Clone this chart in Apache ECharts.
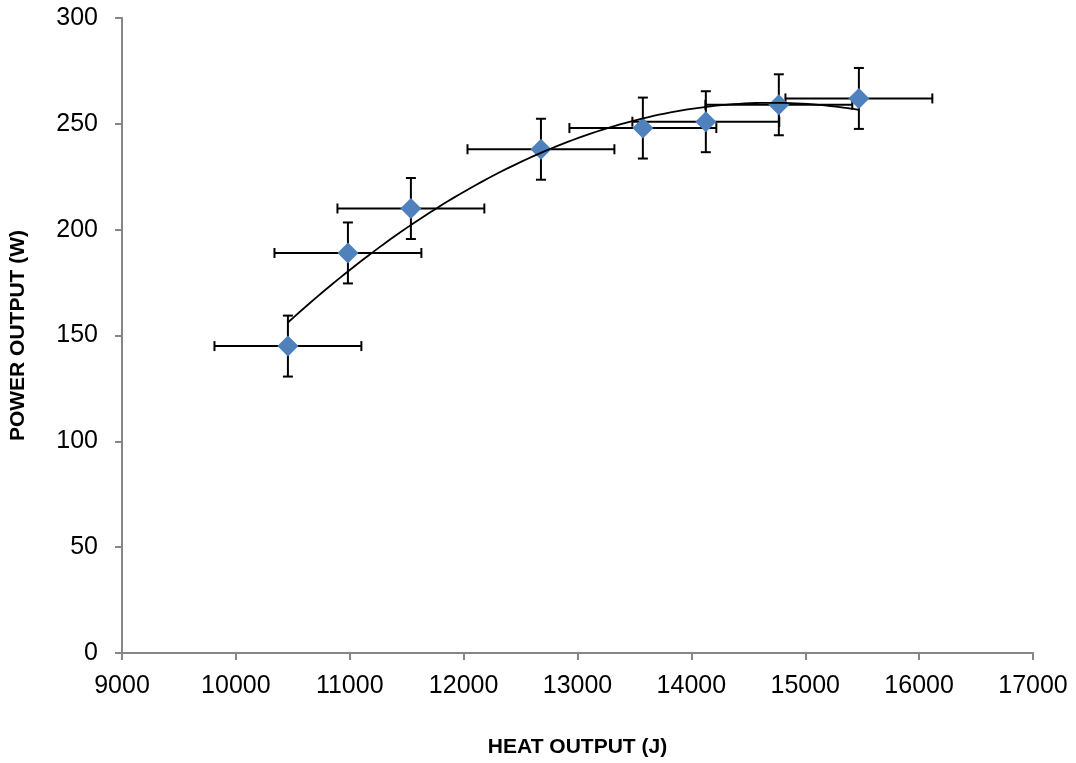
<!DOCTYPE html>
<html><head><meta charset="utf-8">
<script src="https://cdn.jsdelivr.net/npm/echarts@6/dist/echarts.min.js"></script>
<style>html,body{margin:0;padding:0;background:#fff}#c{width:1076px;height:763px}</style>
</head><body><div id="c"></div>
<script>
const heatOutput = [10457, 10984, 11537, 12679, 13574, 14127, 14768, 15471];
const powerOutput = [145, 189, 210, 238, 248, 251, 259, 262];
const heatError = [645, 645, 645, 645, 645, 645, 645, 645];
const powerError = [14.4, 14.4, 14.4, 14.4, 14.4, 14.4, 14.4, 14.4];
const xTicks = {min: 9000, max: 17000, interval: 1000};
const yTicks = {min: 0, max: 300, interval: 50};

// quadratic least-squares trendline (as in the original chart)
function polyFit2(xs, ys) {
  const n = xs.length, m = xs.reduce((a,b)=>a+b,0)/n;
  const u = xs.map(x => (x - m) / 1000);
  let S = [0,0,0,0,0], T = [0,0,0];
  for (let i=0;i<n;i++){ let p=1; for(let k=0;k<5;k++){S[k]+=p; if(k<3)T[k]+=p*ys[i]; p*=u[i];} }
  const A = [[S[0],S[1],S[2],T[0]],[S[1],S[2],S[3],T[1]],[S[2],S[3],S[4],T[2]]];
  for (let i=0;i<3;i++){ for(let j=i+1;j<3;j++){ const f=A[j][i]/A[i][i]; for(let k=i;k<4;k++)A[j][k]-=f*A[i][k]; } }
  const c=[0,0,0];
  for (let i=2;i>=0;i--){ let s=A[i][3]; for(let k=i+1;k<3;k++)s-=A[i][k]*c[k]; c[i]=s/A[i][i]; }
  return x => { const t=(x-m)/1000; return c[0]+c[1]*t+c[2]*t*t; };
}
const fit = polyFit2(heatOutput, powerOutput);
const x0 = Math.min(...heatOutput), x1 = Math.max(...heatOutput);
const trend = [];
for (let i=0;i<=100;i++){ const x = x0 + (x1-x0)*i/100; trend.push([x, fit(x)]); }

const pts = heatOutput.map((x,i)=>[x, powerOutput[i], heatError[i], powerError[i]]);

const font = 'Liberation Sans';
const chart = echarts.init(document.getElementById('c'));
chart.setOption({
  animation: false,
  backgroundColor: '#fff',
  grid: {left: 122, right: 43, top: 18, bottom: 109},
  xAxis: {
    type: 'value', min: xTicks.min, max: xTicks.max, interval: xTicks.interval,
    name: 'HEAT OUTPUT (J)', nameLocation: 'middle', nameGap: 84,
    nameTextStyle: {fontFamily: font, fontWeight: 'bold', fontSize: 21, color: '#000'},
    axisLine: {lineStyle: {color: '#868686', width: 2}},
    axisTick: {show: true, length: 7, lineStyle: {color: '#868686', width: 2}},
    axisLabel: {fontFamily: font, fontSize: 25, color: '#000', margin: 21, formatter: v => String(v)},
    splitLine: {show: false}
  },
  yAxis: {
    type: 'value', min: yTicks.min, max: yTicks.max, interval: yTicks.interval,
    name: 'POWER OUTPUT (W)', nameLocation: 'middle', nameGap: 93, nameRotate: 90,
    nameTextStyle: {fontFamily: font, fontWeight: 'bold', fontSize: 21, color: '#000'},
    axisLine: {show: true, lineStyle: {color: '#868686', width: 2}},
    axisTick: {show: true, length: 7, lineStyle: {color: '#868686', width: 2}},
    axisLabel: {fontFamily: font, fontSize: 25, color: '#000', margin: 24, formatter: v => String(v)},
    splitLine: {show: false}
  },
  series: [
    {
      type: 'custom', z: 1,
      data: pts,
      renderItem: function (params, api) {
        const x = api.value(0), y = api.value(1), ex = api.value(2), ey = api.value(3);
        const l = api.coord([x-ex, y]), r = api.coord([x+ex, y]);
        const t = api.coord([x, y+ey]), b = api.coord([x, y-ey]);
        const cap = 5;
        const st = {stroke: '#000', lineWidth: 2};
        return {type: 'group', children: [
          {type: 'line', shape: {x1: l[0], y1: l[1], x2: r[0], y2: r[1]}, style: st},
          {type: 'line', shape: {x1: l[0], y1: l[1]-cap, x2: l[0], y2: l[1]+cap}, style: st},
          {type: 'line', shape: {x1: r[0], y1: r[1]-cap, x2: r[0], y2: r[1]+cap}, style: st},
          {type: 'line', shape: {x1: t[0], y1: t[1], x2: b[0], y2: b[1]}, style: st},
          {type: 'line', shape: {x1: t[0]-cap, y1: t[1], x2: t[0]+cap, y2: t[1]}, style: st},
          {type: 'line', shape: {x1: b[0]-cap, y1: b[1], x2: b[0]+cap, y2: b[1]}, style: st}
        ]};
      }
    },
    {
      type: 'scatter', z: 2,
      data: heatOutput.map((x,i)=>[x, powerOutput[i]]),
      symbol: 'diamond', symbolSize: [21, 21],
      itemStyle: {color: '#4F81BD', opacity: 1}
    },
    {
      type: 'line', z: 3,
      data: trend, showSymbol: false, symbol: 'none',
      lineStyle: {color: '#000', width: 1.8}
    }
  ]
});
</script></body></html>
